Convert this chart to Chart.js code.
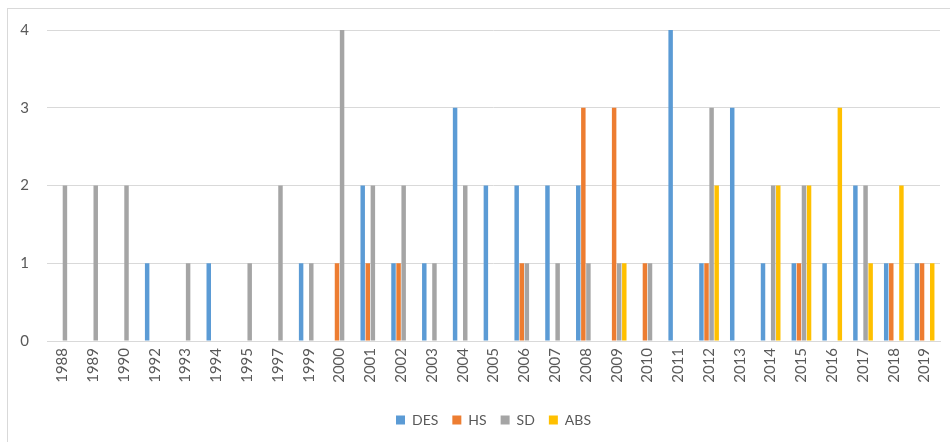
<!DOCTYPE html>
<html>
<head>
<meta charset="utf-8">
<title>Publications by type</title>
<script src="https://cdn.jsdelivr.net/npm/chart.js@4/dist/chart.umd.min.js"></script>
<style>
  body { margin: 0; background: #fff; }
  #wrap { position: relative; width: 950px; height: 442px; overflow: hidden; }
  #frame { position: absolute; left: 7px; top: 8px; width: 960px; height: 450px; border: 1px solid #d9d9d9; box-sizing: border-box; pointer-events: none; }
  canvas { position: absolute; left: 0; top: 0; }
</style>
</head>
<body>
<div id="wrap">
  <div id="frame"></div>
  <canvas id="barChart" width="950" height="442"></canvas>
</div>
<script>
/* ================= Data ================= */

const years = ['1988', '1989', '1990', '1992', '1993', '1994', '1995', '1997', '1999', '2000',
  '2001', '2002', '2003', '2004', '2005', '2006', '2007', '2008', '2009', '2010',
  '2011', '2012', '2013', '2014', '2015', '2016', '2017', '2018', '2019'];

const des = [0, 0, 0, 1, 0, 1, 0, 0, 1, 0,
  2, 1, 1, 3, 2, 2, 2, 2, 0, 0,
  4, 1, 3, 1, 1, 1, 2, 1, 1];
const hs = [0, 0, 0, 0, 0, 0, 0, 0, 0, 1,
  1, 1, 0, 0, 0, 1, 0, 3, 3, 1,
  0, 1, 0, 0, 1, 0, 0, 1, 1];
const sd = [2, 2, 2, 0, 1, 0, 1, 2, 1, 4,
  2, 2, 1, 2, 0, 1, 1, 1, 1, 1,
  0, 3, 0, 2, 2, 0, 2, 0, 0];
const abs = [0, 0, 0, 0, 0, 0, 0, 0, 0, 0,
  0, 0, 0, 0, 0, 0, 0, 0, 1, 0,
  0, 2, 0, 2, 2, 3, 1, 2, 1];

const yTicks = [0, 1, 2, 3, 4];

/* ================= Bar Chart ================= */

Chart.defaults.font.family = "Lato, 'Open Sans', sans-serif";
Chart.defaults.font.size = 14;
Chart.defaults.color = '#595959';

const grid = '#d9d9d9';

function series(label, data, color) {
  return {
    label: label,
    data: data,
    backgroundColor: color,
    borderWidth: 0,
    categoryPercentage: 0.66,
    barPercentage: 0.88
  };
}

new Chart(document.getElementById('barChart'), {
  type: 'bar',
  data: {
    labels: years,
    datasets: [
      series('DES', des, '#5b9bd5'),
      series('HS', hs, '#ed7d31'),
      series('SD', sd, '#a5a5a5'),
      series('ABS', abs, '#ffc000')
    ]
  },
  options: {
    responsive: false,
    animation: false,
    layout: {
      padding: { left: 0, right: 10, top: 30, bottom: 5 }
    },
    plugins: {
      tooltip: { enabled: false },
      legend: {
        position: 'bottom',
        fullSize: false,
        labels: {
          boxWidth: 9,
          boxHeight: 9,
          padding: 14,
          font: { size: 14 }
        }
      }
    },
    scales: {
      x: {
        grid: { display: false, drawTicks: false },
        border: { display: true, color: grid, width: 1 },
        ticks: {
          minRotation: 90,
          maxRotation: 90,
          padding: 7,
          autoSkip: false,
          font: { size: 15 }
        },
        afterFit: (scale) => { scale.height = 58; }
      },
      y: {
        min: 0,
        max: yTicks[yTicks.length - 1],
        grid: { color: grid, lineWidth: 1, drawTicks: false },
        border: { display: false },
        afterBuildTicks: (scale) => { scale.ticks = yTicks.map(v => ({ value: v })); },
        ticks: {
          padding: 18,
          font: { size: 15 }
        },
        afterFit: (scale) => { scale.width = 47; }
      }
    }
  }
});
</script>
</body>
</html>
